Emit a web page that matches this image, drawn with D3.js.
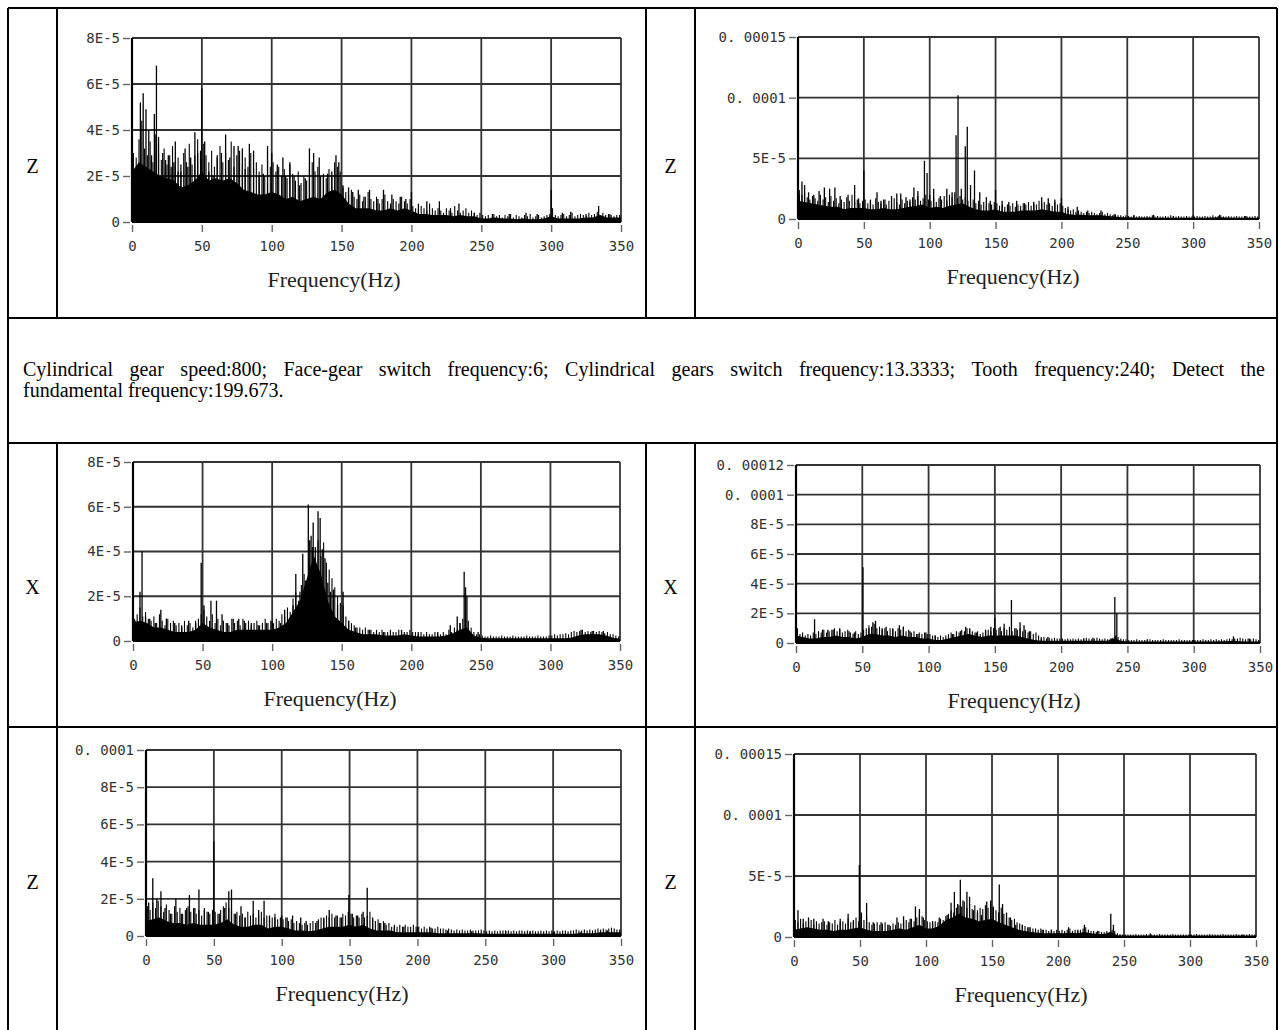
<!DOCTYPE html>
<html>
<head>
<meta charset="utf-8">
<script src="https://cdn.jsdelivr.net/npm/d3@7"></script>
<style>
  body { margin: 0; background: #fff; }
  svg { display: block; }
</style>
</head>
<body>
<svg id="page" width="1279" height="1030"></svg>
<script>
// amplitudes below are in units of 1E-5
const freqTicks = [0, 50, 100, 150, 200, 250, 300, 350];
const floorFreqs = d3.range(0, 351, 5);   // 0, 5, ... 350 Hz
const noiseFreqs = d3.range(1, 350, 2);   // 1, 3, ... 349 Hz

const ticks8 = [0, 2, 4, 6, 8];
const ticks8Labels = ['0', '2E-5', '4E-5', '6E-5', '8E-5'];
const ticks10 = [0, 2, 4, 6, 8, 10];
const ticks10Labels = ['0', '2E-5', '4E-5', '6E-5', '8E-5', '0. 0001'];
const ticks12 = [0, 2, 4, 6, 8, 10, 12];
const ticks12Labels = ['0', '2E-5', '4E-5', '6E-5', '8E-5', '0. 0001', '0. 00012'];
const ticks15 = [0, 5, 10, 15];
const ticks15Labels = ['0', '5E-5', '0. 0001', '0. 00015'];

const note1 = 'Cylindrical gear speed:800; Face-gear switch frequency:6; Cylindrical gears switch frequency:13.3333; Tooth frequency:240; Detect the';
const note2 = 'fundamental frequency:199.673.';

// solid noise level (every 5 Hz)
const floorA = [2.2,2.6,2.4,2.2,2.0,1.9,1.8,1.5,1.6,1.8, 2.2,1.8,1.9,1.8,1.9,1.7,1.4,1.3,1.2,1.2,
  1.3,1.2,1.0,1.1,0.9,1.0,1.1,1.0,1.3,1.4, 1.2,0.8,0.6,0.6,0.6,0.5,0.5,0.6,0.5,0.6,
  0.5,0.35,0.35,0.3,0.3,0.3,0.25,0.3,0.25,0.25, 0.15,0.15,0.2,0.15,0.15,0.12,0.15,0.12,0.12,0.15,
  0.25,0.15,0.15,0.15,0.15,0.2,0.2,0.3,0.2,0.2,0.2];
const floorB = [1.5,1.4,1.3,1.2,1.1,1.0,1.0,0.8,0.9,0.9, 0.9,0.8,0.8,0.9,0.8,0.8,0.9,1.0,1.1,1.2,
  0.9,1.0,0.9,1.1,1.2,1.3,1.0,0.8,0.7,0.7, 0.8,0.6,0.6,0.6,0.7,0.7,0.7,0.8,0.7,0.6,
  0.6,0.4,0.35,0.35,0.3,0.3,0.3,0.25,0.2,0.15, 0.15,0.12,0.12,0.12,0.12,0.1,0.1,0.1,0.1,0.1,
  0.1,0.1,0.1,0.12,0.15,0.12,0.1,0.1,0.1,0.1,0.1];
const floorC = [0.8,0.9,0.8,0.6,0.6,0.5,0.4,0.4,0.4,0.5, 0.8,0.6,0.5,0.4,0.4,0.5,0.5,0.5,0.5,0.5,
  0.5,0.6,0.8,1.3,1.8,2.8,3.8,3.0,1.8,1.1, 0.8,0.5,0.4,0.3,0.3,0.3,0.25,0.25,0.25,0.3,
  0.25,0.2,0.2,0.2,0.2,0.25,0.35,0.5,0.6,0.25, 0.15,0.12,0.12,0.12,0.12,0.12,0.12,0.12,0.12,0.12,
  0.12,0.12,0.12,0.15,0.25,0.3,0.3,0.3,0.25,0.15,0.1];
const floorD = [0.5,0.4,0.3,0.3,0.4,0.4,0.5,0.4,0.4,0.3, 0.4,0.6,0.6,0.5,0.5,0.4,0.5,0.4,0.4,0.3,
  0.3,0.2,0.2,0.3,0.4,0.5,0.6,0.5,0.4,0.5, 0.5,0.5,0.5,0.5,0.4,0.3,0.2,0.15,0.15,0.15,
  0.15,0.15,0.15,0.15,0.15,0.15,0.15,0.15,0.3,0.15, 0.1,0.1,0.1,0.1,0.1,0.1,0.1,0.1,0.1,0.1,
  0.1,0.1,0.1,0.1,0.12,0.12,0.15,0.12,0.1,0.1,0.1];
const floorE = [0.8,0.9,1.0,0.8,0.7,0.7,0.6,0.7,0.6,0.6, 0.6,0.7,0.9,0.6,0.5,0.5,0.6,0.6,0.4,0.5,
  0.5,0.4,0.3,0.3,0.25,0.3,0.4,0.5,0.5,0.5, 0.6,0.5,0.6,0.4,0.3,0.3,0.3,0.2,0.2,0.2,
  0.2,0.2,0.2,0.15,0.15,0.15,0.15,0.15,0.15,0.15, 0.12,0.12,0.12,0.12,0.12,0.12,0.12,0.12,0.12,0.12,
  0.12,0.12,0.12,0.12,0.15,0.15,0.15,0.2,0.2,0.2,0.2];
const floorF = [0.6,0.7,0.8,0.7,0.6,0.6,0.5,0.6,0.6,0.7, 0.8,0.6,0.5,0.5,0.5,0.6,0.7,0.6,0.8,1.0,
  0.7,0.7,0.9,1.4,1.6,1.9,1.6,1.5,1.3,1.4, 1.5,1.2,1.0,0.8,0.6,0.5,0.4,0.35,0.3,0.3,
  0.3,0.3,0.35,0.3,0.4,0.3,0.25,0.25,0.4,0.15, 0.12,0.12,0.12,0.12,0.12,0.12,0.12,0.12,0.12,0.12,
  0.12,0.12,0.12,0.12,0.12,0.12,0.12,0.12,0.12,0.12,0.12];

// fine spectrum texture (every 2 Hz, odd frequencies)
const noiseA = [3.0,2.8,3.6,4.4,3.2,2.9,3.5,2.6,3.8,3.0,2.7,3.2,2.5,2.9,3.3,2.4,2.8,2.2,3.0,2.6,3.4,2.5,2.9,3.6,3.1,
  3.4,2.9,2.6,3.1,2.4,2.8,3.3,2.6,3.0,2.7,3.5,2.4,2.9,3.1,2.5,2.8,2.4,3.0,2.3,2.6,2.2,2.5,2.0,2.7,2.4,
  2.6,2.2,2.4,2.0,2.3,1.9,2.5,2.1,1.8,2.2,1.7,2.0,1.8,2.3,2.6,2.2,2.4,2.0,2.1,1.9,2.3,2.0,2.6,2.4,2.2,
  1.5,1.3,1.2,1.4,1.1,1.0,1.2,0.9,1.1,1.3,1.0,0.9,1.1,0.8,1.0,1.2,0.9,0.8,1.0,0.9,0.8,1.1,0.9,0.8,1.0,
  0.7,0.6,0.5,0.7,0.6,0.5,0.8,0.6,0.5,0.6,0.5,0.4,0.6,0.5,0.4,0.7,0.5,0.4,0.5,0.6,0.4,0.5,0.4,0.3,0.4,
  0.3,0.25,0.3,0.2,0.35,0.25,0.3,0.2,0.3,0.25,0.35,0.2,0.3,0.25,0.2,0.3,0.25,0.35,0.2,0.25,0.3,0.2,0.25,0.3,0.35,
  0.6,0.3,0.25,0.3,0.35,0.25,0.3,0.4,0.25,0.3,0.35,0.3,0.25,0.4,0.3,0.35,0.45,0.3,0.4,0.3,0.35,0.3,0.25,0.3,0.3];
const noiseB = [2.4,2.0,2.2,1.8,1.6,1.9,1.7,1.5,2.0,1.6,1.8,1.4,1.9,1.5,1.7,1.3,1.6,1.4,1.8,1.5,2.0,1.4,1.6,1.3,1.5,
  1.6,1.3,1.5,1.2,1.7,1.4,1.3,1.6,1.2,1.5,1.3,1.7,1.4,1.2,1.6,1.3,1.5,1.4,1.8,1.6,1.9,1.5,1.7,2.0,1.6,
  1.5,1.8,1.4,1.7,1.6,1.9,1.5,2.0,1.8,2.2,1.7,1.9,1.6,1.8,1.5,1.4,1.6,1.3,1.5,1.2,1.4,1.1,1.3,1.2,1.4,
  1.3,1.1,1.2,1.0,1.2,1.1,1.3,1.0,1.2,1.1,1.3,1.2,1.4,1.1,1.3,1.2,1.5,1.3,1.4,1.2,1.3,1.1,1.4,1.2,1.3,
  1.1,0.9,0.8,0.7,0.8,0.6,0.7,0.6,0.5,0.6,0.5,0.6,0.5,0.4,0.5,0.6,0.4,0.5,0.4,0.3,0.4,0.3,0.3,0.25,0.3,
  0.25,0.2,0.3,0.2,0.25,0.2,0.2,0.25,0.2,0.3,0.2,0.25,0.2,0.2,0.25,0.2,0.3,0.2,0.2,0.25,0.2,0.2,0.25,0.2,0.2,
  0.2,0.25,0.2,0.2,0.25,0.2,0.2,0.3,0.2,0.25,0.3,0.2,0.2,0.25,0.2,0.2,0.25,0.2,0.2,0.25,0.2,0.2,0.2,0.25,0.2];
const noiseC = [1.0,1.2,1.5,1.1,1.3,1.0,0.9,1.1,0.8,1.2,0.9,0.7,1.0,0.8,0.9,0.7,0.8,0.6,0.9,0.7,0.8,0.6,0.9,1.0,1.2,
  1.4,1.1,0.9,1.2,0.8,1.0,0.7,0.9,0.8,0.7,1.0,0.8,0.9,0.7,1.0,0.8,0.9,0.7,0.8,0.9,0.7,0.8,1.0,0.8,0.9,
  0.8,1.0,0.9,1.2,1.1,1.5,1.3,1.9,2.2,1.8,2.5,3.0,2.6,3.4,4.2,3.6,4.5,3.8,4.4,3.5,3.2,2.8,2.4,2.0,1.7,
  1.6,1.1,0.9,0.8,0.7,0.6,0.6,0.5,0.6,0.5,0.5,0.4,0.5,0.4,0.5,0.4,0.4,0.5,0.4,0.4,0.5,0.4,0.4,0.4,0.5,
  0.4,0.4,0.3,0.4,0.3,0.4,0.3,0.3,0.4,0.3,0.3,0.4,0.3,0.5,0.4,0.6,0.5,0.8,1.0,1.3,0.9,0.6,0.4,0.3,0.3,
  0.25,0.2,0.2,0.25,0.2,0.2,0.2,0.25,0.2,0.2,0.2,0.25,0.2,0.2,0.2,0.2,0.25,0.2,0.2,0.2,0.25,0.2,0.2,0.2,0.25,
  0.25,0.3,0.25,0.3,0.3,0.35,0.3,0.4,0.45,0.4,0.45,0.5,0.4,0.45,0.4,0.45,0.4,0.45,0.4,0.35,0.4,0.3,0.3,0.25,0.2];
const noiseD = [0.8,0.6,0.7,0.5,0.6,0.5,0.7,0.6,0.8,0.7,0.9,0.7,0.8,0.9,1.0,0.8,0.9,0.7,0.8,0.9,0.7,0.6,0.8,0.6,0.7,
  0.9,1.0,1.2,1.1,1.3,1.0,1.1,0.9,1.0,0.8,1.0,0.9,0.8,1.0,0.9,1.1,0.8,0.9,0.7,0.8,0.6,0.7,0.6,0.7,0.6,
  0.6,0.5,0.5,0.4,0.5,0.4,0.5,0.6,0.7,0.6,0.8,0.7,0.9,0.8,1.0,0.9,0.8,0.7,0.8,0.6,0.7,0.8,0.9,0.8,1.0,
  0.9,1.0,0.8,1.0,0.9,1.1,0.8,1.0,0.9,1.0,0.8,0.9,0.7,0.8,0.6,0.7,0.5,0.4,0.4,0.3,0.35,0.3,0.35,0.3,0.3,
  0.3,0.25,0.3,0.25,0.3,0.25,0.3,0.25,0.3,0.35,0.3,0.25,0.3,0.35,0.3,0.25,0.3,0.25,0.3,0.35,0.5,0.4,0.3,0.25,0.25,
  0.2,0.2,0.2,0.25,0.2,0.2,0.2,0.2,0.25,0.2,0.2,0.2,0.2,0.25,0.2,0.2,0.2,0.2,0.2,0.25,0.2,0.2,0.2,0.2,0.2,
  0.2,0.2,0.2,0.25,0.2,0.2,0.25,0.2,0.25,0.2,0.25,0.2,0.25,0.3,0.25,0.3,0.3,0.35,0.3,0.25,0.3,0.25,0.3,0.25,0.2];
const noiseE = [1.6,1.4,1.8,1.5,1.9,1.6,1.3,1.7,1.4,1.2,1.6,1.3,1.5,1.2,1.4,1.6,1.3,1.5,1.2,1.4,1.1,1.5,1.3,1.2,1.4,
  1.3,1.2,1.4,1.6,1.8,1.5,1.4,1.2,1.3,1.1,1.2,1.0,1.3,1.1,1.2,1.0,1.1,1.3,1.0,1.1,0.9,1.0,1.2,0.9,1.0,
  0.9,1.0,0.8,0.9,0.7,0.8,0.7,0.6,0.7,0.6,0.7,0.8,0.7,0.9,1.0,0.9,1.1,1.0,1.2,1.0,1.1,1.0,1.2,1.1,1.3,
  1.2,1.0,1.1,1.0,1.2,1.0,1.1,1.3,0.9,0.8,0.9,0.7,0.8,0.6,0.7,0.5,0.6,0.5,0.6,0.5,0.6,0.5,0.5,0.6,0.5,
  0.5,0.4,0.5,0.4,0.5,0.4,0.4,0.5,0.4,0.4,0.35,0.4,0.35,0.3,0.35,0.3,0.35,0.3,0.3,0.35,0.3,0.3,0.3,0.35,0.3,
  0.25,0.3,0.25,0.3,0.25,0.3,0.3,0.25,0.3,0.25,0.3,0.25,0.3,0.3,0.25,0.3,0.25,0.3,0.25,0.25,0.3,0.25,0.3,0.25,0.3,
  0.25,0.3,0.25,0.3,0.3,0.25,0.3,0.3,0.35,0.3,0.3,0.35,0.3,0.35,0.3,0.35,0.4,0.35,0.4,0.35,0.4,0.45,0.4,0.35,0.35];
const noiseF = [1.4,1.2,1.5,1.1,1.3,1.2,1.4,1.0,1.3,1.1,1.2,1.3,1.0,1.2,1.1,1.4,1.0,1.2,1.3,1.1,1.5,1.2,1.4,1.6,1.3,
  1.8,1.4,1.6,1.2,1.0,1.1,1.2,1.0,1.1,1.2,1.0,0.9,1.1,1.0,1.2,1.1,1.3,1.4,1.2,1.5,1.3,1.6,1.8,1.7,1.4,
  1.3,1.2,1.1,1.3,1.2,1.5,1.4,1.7,1.9,2.2,2.0,2.4,2.6,2.5,2.9,2.4,2.7,2.3,2.6,2.2,2.4,2.3,2.6,2.4,2.7,
  2.5,2.2,2.0,2.4,1.9,1.7,1.6,1.4,1.5,1.2,1.1,1.0,0.9,0.8,0.8,0.7,0.7,0.6,0.7,0.6,0.6,0.5,0.6,0.5,0.6,
  0.5,0.6,0.5,0.6,0.7,0.5,0.6,0.5,0.6,0.7,0.8,0.6,0.5,0.5,0.4,0.5,0.4,0.4,0.5,0.4,0.6,0.5,0.3,0.25,0.2,
  0.2,0.2,0.2,0.2,0.25,0.2,0.2,0.2,0.25,0.2,0.2,0.2,0.2,0.25,0.2,0.2,0.2,0.2,0.25,0.2,0.2,0.2,0.2,0.2,0.2,
  0.2,0.2,0.25,0.2,0.2,0.2,0.2,0.25,0.2,0.2,0.2,0.2,0.25,0.2,0.2,0.2,0.2,0.25,0.2,0.2,0.2,0.2,0.25,0.2,0.2];

// distinct spectral lines [Hz, amplitude]
const peaksA = [[6,5.2],[8,5.6],[10,4.9],[12,4.0],[14,2.9],[16,4.7],[17.5,6.8],[19,3.7],[22,3.0],[24,2.7],
  [26,2.9],[28,2.4],[30,2.6],[31,3.5],[33,2.2],[35,2.5],[38,3.2],[40,2.4],[42,2.8],[45,3.9],[47,3.0],
  [50,5.8],[52,3.5],[55,2.2],[58,2.0],[61,2.9],[64,3.0],[67,3.8],[70,2.8],[73,3.3],[76,3.3],[79,3.2],
  [81,2.3],[84,3.4],[87,3.1],[91,2.0],[94,2.1],[97,3.3],[100,3.0],[104,2.5],[108,2.8],[110,2.0],
  [113,2.6],[116,2.0],[120,1.6],[124,1.9],[127,3.2],[130,3.0],[134,2.8],[137,2.0],[140,2.1],[143,2.2],
  [146,2.9],[148,2.6],[151,1.6],[155,1.5],[158,1.3],[162,1.4],[166,1.1],[170,1.4],[176,1.0],[180,1.4],
  [186,1.2],[192,1.1],[196,1.0],[200,1.3],[205,0.8],[211,0.9],[220,0.9],[228,0.6],[234,0.8],[245,0.4],
  [258,0.35],[270,0.35],[282,0.4],[290,0.35],[300,1.4],[308,0.4],[314,0.45],[325,0.35],[334,0.7],[342,0.35]];
const peaksB = [[1,2.0],[3,3.1],[5,2.8],[8,2.2],[12,2.0],[16,2.3],[20,2.6],[24,2.5],[28,2.6],[32,1.9],
  [38,2.0],[43,2.8],[46,1.7],[50,4.0],[55,1.6],[60,2.2],[63,1.5],[66,1.6],[71,1.9],[75,2.1],[78,2.1],
  [82,1.8],[85,1.6],[88,2.6],[91,2.3],[96,4.8],[98,3.8],[100,2.0],[103,2.5],[108,1.9],[113,2.5],
  [117,2.2],[120,6.9],[121.5,10.2],[124,2.5],[127,6.0],[128.5,7.6],[131,2.8],[134,4.0],[138,2.2],
  [143,1.8],[146,1.5],[150,2.4],[155,1.5],[160,1.4],[166,1.5],[172,1.3],[179,1.4],[185,1.8],[190,1.7],
  [195,1.6],[200,1.7],[205,1.0],[212,1.0],[220,0.7],[230,0.7],[240,0.4],[255,0.3],[270,0.35],
  [285,0.25],[300,0.3],[320,0.35],[340,0.25]];
const peaksC = [[2,0.9],[5,2.2],[6.5,4.0],[9,1.1],[12,1.0],[16,0.8],[20,1.4],[24,1.0],[30,0.8],[35,0.7],
  [40,0.9],[45,0.8],[49,3.5],[51,1.6],[56,1.8],[60,1.8],[64,1.2],[68,0.8],[72,1.0],[76,1.0],[80,0.9],
  [85,0.8],[90,0.7],[96,0.8],[100,0.9],[106,0.8],[109,1.4],[113,1.0],[115,1.6],[117,3.0],[120,2.2],
  [122,3.9],[124,2.7],[126,6.1],[127,4.5],[128,4.7],[129.5,5.3],[131,4.2],[133,5.8],[134.5,5.5],
  [136,4.1],[138,3.7],[140,2.6],[142,2.2],[144,2.3],[147,1.6],[151,2.2],[155,0.9],[160,0.6],[170,0.5],
  [180,0.4],[193,0.5],[205,0.4],[219,0.4],[228,0.7],[233,1.1],[235,0.8],[238,3.1],[239,2.4],[240,2.0],
  [248,0.4],[322,0.5],[330,0.45],[338,0.45]];
const peaksD = [[1,1.0],[14,1.6],[20,0.9],[24,0.9],[28,0.9],[33,1.0],[40,0.8],[44,0.7],[50.5,5.1],
  [55,1.0],[58,1.4],[60,1.5],[65,1.0],[68,1.1],[73,1.0],[78,1.2],[81,1.1],[86,0.8],[92,0.6],[98,0.7],
  [105,0.5],[118,0.6],[124,0.8],[128,1.1],[131,1.0],[136,0.7],[143,0.9],[147,1.1],[150,1.7],[154,1.1],
  [157,1.3],[162.5,2.9],[166,1.0],[169,1.4],[172,1.2],[176,0.8],[185,0.3],[190,0.4],[217,0.3],
  [224,0.35],[238,0.3],[240.5,3.1],[242,2.0],[265,0.25],[300,0.2],[330,0.45],[342,0.3]];
const peaksE = [[2,1.8],[5,3.1],[8,2.0],[11,2.4],[14,1.5],[18,1.2],[22,2.0],[26,1.2],[30,1.5],[32,2.2],
  [36,1.5],[39,2.5],[43,1.4],[46,1.3],[50,5.1],[54,1.2],[58,1.5],[61,2.4],[63,2.5],[66,1.2],[70,1.6],
  [73,1.0],[79,1.9],[83,1.4],[87,1.9],[91,1.1],[95,1.0],[100,1.1],[104,1.0],[108,1.1],[114,1.0],
  [118,0.8],[126,0.8],[131,1.0],[135,1.4],[140,1.1],[144,1.0],[149.5,2.2],[152,1.2],[156,1.1],
  [160,1.3],[163,2.6],[167,1.0],[172,0.7],[176,0.7],[183,0.5],[190,0.5],[200,0.5],[210,0.45],
  [222,0.3],[240,0.25],[265,0.3],[283,0.25],[300,0.2],[320,0.2],[340,0.3]];
const peaksF = [[3,2.2],[7,1.5],[11,1.6],[15,1.5],[22,1.5],[26,1.3],[35,1.5],[41,1.9],[45,1.3],
  [49.5,5.9],[51,2.0],[55,2.8],[60,1.2],[66,1.2],[72,1.0],[78,1.6],[83,1.7],[88,1.5],[92,2.5],[95,2.3],
  [98,1.6],[105,1.3],[110,1.6],[116,1.8],[119,2.8],[121.5,3.7],[124,2.7],[126,4.7],[128,3.0],
  [131,3.7],[133,3.3],[136,2.2],[139,2.0],[142,1.8],[146,2.9],[149,3.0],[151,2.4],[155.5,4.3],
  [158,2.7],[161,2.0],[164,1.6],[168,1.0],[173,1.0],[178,0.8],[188,0.6],[195,0.6],[208,0.8],
  [215,0.6],[220,1.0],[230,0.5],[240,1.9],[242,1.0],[270,0.3],[300,0.2],[340,0.2]];

const serif = '"Liberation Serif", "Times New Roman", serif';
const mono = '"DejaVu Sans Mono", monospace';
const gridColor = '#333';

const svg = d3.select('#page');

// table rules
const rules = [
  [8, 8, 1277, 8], [8, 8, 8, 1030], [1277, 8, 1277, 1030],
  [8, 318, 1277, 318], [8, 443, 1277, 443], [8, 727, 1277, 727],
  [57, 8, 57, 318], [646, 8, 646, 318], [695, 8, 695, 318],
  [57, 443, 57, 1030], [646, 443, 646, 1030], [695, 443, 695, 1030]
];
svg.append('g').selectAll('line').data(rules).join('line')
  .attr('x1', d => d[0]).attr('y1', d => d[1]).attr('x2', d => d[2]).attr('y2', d => d[3])
  .attr('stroke', '#000').attr('stroke-width', 2);

// note row, first line justified
let note = svg.append('g').attr('font-family', serif).attr('font-size', 20).attr('fill', '#000');
let words = note1.split(' ');
let wt = note.selectAll('text.w').data(words).join('text').attr('class', 'w').attr('y', 376).text(d => d);
let widths = wt.nodes().map(n => n.getComputedTextLength());
let gap = (1265 - 23 - d3.sum(widths)) / (words.length - 1);
wt.attr('x', (d, i) => 23 + d3.sum(widths.slice(0, i)) + gap * i);
note.append('text').attr('x', 23).attr('y', 397).text(note2);

const panels = [
  {label: 'Z', floor: floorA, noise: noiseA, peaks: peaksA, ticks: ticks8, tickLabels: ticks8Labels,
    left: 132, right: 621, top: 38, bottom: 222, titleX: 334, cellX: 32.5, cellY: 166},
  {label: 'Z', floor: floorB, noise: noiseB, peaks: peaksB, ticks: ticks15, tickLabels: ticks15Labels,
    left: 798, right: 1259, top: 37, bottom: 219, titleX: 1013, cellX: 670.5, cellY: 166},
  {label: 'X', floor: floorC, noise: noiseC, peaks: peaksC, ticks: ticks8, tickLabels: ticks8Labels,
    left: 133, right: 620, top: 462, bottom: 641, titleX: 330, cellX: 32.5, cellY: 587},
  {label: 'X', floor: floorD, noise: noiseD, peaks: peaksD, ticks: ticks12, tickLabels: ticks12Labels,
    left: 796, right: 1260, top: 465, bottom: 643, titleX: 1014, cellX: 670.5, cellY: 587},
  {label: 'Z', floor: floorE, noise: noiseE, peaks: peaksE, ticks: ticks10, tickLabels: ticks10Labels,
    left: 146, right: 621, top: 750, bottom: 936, titleX: 342, cellX: 32.5, cellY: 882},
  {label: 'Z', floor: floorF, noise: noiseF, peaks: peaksF, ticks: ticks15, tickLabels: ticks15Labels,
    left: 794, right: 1256, top: 754, bottom: 937, titleX: 1021, cellX: 670.5, cellY: 882}
];

panels.forEach(p => {
  let x = d3.scaleLinear().domain([0, 350]).range([p.left, p.right]);
  let y = d3.scaleLinear().domain([0, d3.max(p.ticks)]).range([p.bottom, p.top]);
  let g = svg.append('g');

  // axis name in the side cell
  svg.append('text')
    .attr('x', p.cellX).attr('y', p.cellY).attr('dy', '0.33em')
    .attr('text-anchor', 'middle')
    .attr('font-family', serif).attr('font-size', 20)
    .text(p.label);

  // grid
  g.append('g').selectAll('line').data(freqTicks).join('line')
    .attr('x1', d => x(d)).attr('x2', d => x(d))
    .attr('y1', p.top).attr('y2', p.bottom)
    .attr('stroke', gridColor).attr('stroke-width', 1.8);
  g.append('g').selectAll('line').data(p.ticks).join('line')
    .attr('x1', p.left).attr('x2', p.right)
    .attr('y1', d => y(d)).attr('y2', d => y(d))
    .attr('stroke', gridColor).attr('stroke-width', 1.8);

  // solid noise floor
  let area = d3.area()
    .x((d, i) => x(floorFreqs[i]))
    .y0(y(0))
    .y1(d => y(d));
  g.append('path').datum(p.floor).attr('d', area).attr('fill', '#000');

  // fine texture
  g.append('g').selectAll('line').data(p.noise).join('line')
    .attr('x1', (d, i) => x(noiseFreqs[i])).attr('x2', (d, i) => x(noiseFreqs[i]))
    .attr('y1', y(0)).attr('y2', d => y(d))
    .attr('stroke', '#000').attr('stroke-width', 1.1);

  // spectral lines
  g.append('g').selectAll('line').data(p.peaks).join('line')
    .attr('x1', d => x(d[0])).attr('x2', d => x(d[0]))
    .attr('y1', y(0)).attr('y2', d => y(d[1]))
    .attr('stroke', '#000').attr('stroke-width', 1.3);

  // plot edges
  g.append('line').attr('x1', p.left).attr('x2', p.left).attr('y1', p.top).attr('y2', p.bottom)
    .attr('stroke', '#000').attr('stroke-width', 2.2);
  g.append('line').attr('x1', p.left).attr('x2', p.right).attr('y1', p.bottom).attr('y2', p.bottom)
    .attr('stroke', '#000').attr('stroke-width', 1.8);

  // axes
  let yAxis = d3.axisLeft(y)
    .tickValues(p.ticks)
    .tickFormat((d, i) => p.tickLabels[i])
    .tickSize(7)
    .tickPadding(3);
  let xAxis = d3.axisBottom(x)
    .tickValues(freqTicks)
    .tickFormat(d => d)
    .tickSize(7)
    .tickPadding(9);

  g.append('g')
    .attr('transform', `translate(${p.left - 2},0)`)
    .call(yAxis)
    .call(a => a.select('.domain').remove());
  g.append('g')
    .attr('transform', `translate(0,${p.bottom + 3})`)
    .call(xAxis)
    .call(a => a.select('.domain').remove());

  g.selectAll('.tick line').attr('stroke', '#666').attr('stroke-width', 1.4);
  g.selectAll('.tick text')
    .attr('font-family', mono).attr('font-size', 14).attr('fill', '#333');

  g.append('text')
    .attr('x', p.titleX).attr('y', p.bottom + 65)
    .attr('text-anchor', 'middle')
    .attr('font-family', serif).attr('font-size', 22).attr('fill', '#222')
    .text('Frequency(Hz)');
});
</script>
</body>
</html>
